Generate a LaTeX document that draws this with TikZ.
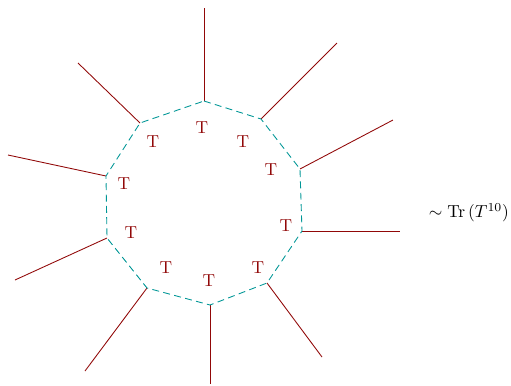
\documentclass[tikz,border=0pt]{standalone}
\usepackage{amsmath}
\definecolor{legred}{RGB}{145,8,8}
\definecolor{loopteal}{RGB}{0,150,150}
\begin{document}
\begin{tikzpicture}[x=0.575pt, y=-0.575pt,
  leg/.style={legred, line width=0.5pt},
  bond/.style={loopteal, line width=0.5pt, dash pattern=on 4pt off 2.5pt},
  tlabel/.style={legred, font=\normalsize}]
  \useasboundingbox (0,0) rectangle (511,385);
  % vertices of the ring and free ends of the legs
  \foreach \i/\vx/\vy/\ox/\oy in {1/204/101/204/8, 2/261/119/337/43, 3/300/169/393/120,
      4/302/231/400/231, 5/267/283/322/357, 6/210/305/210/384, 7/147/288/85/371,
      8/107/238/15/280, 9/106/176/8/155, 10/140/123/78/63}{
    \coordinate (v\i) at (\vx,\vy);
    \coordinate (o\i) at (\ox,\oy);
    \draw[leg] (v\i) -- (o\i);
  }
  \draw[bond] (v1) -- (v2) -- (v3) -- (v4) -- (v5) -- (v6) -- (v7) -- (v8) -- (v9) -- (v10) -- cycle;
  % tensors
  \foreach \i/\tx/\ty in {1/202/128, 2/243/142, 3/271/170, 4/286/226, 5/258/268,
      6/209/281, 7/166/268, 8/131/233, 9/124/184, 10/153/142}
    \node[tlabel] (t\i) at (\tx,\ty) {T};
  \node (tr) at (469,213) {$\sim \mathrm{Tr}\,(T^{10})$};
\end{tikzpicture}
\end{document}
